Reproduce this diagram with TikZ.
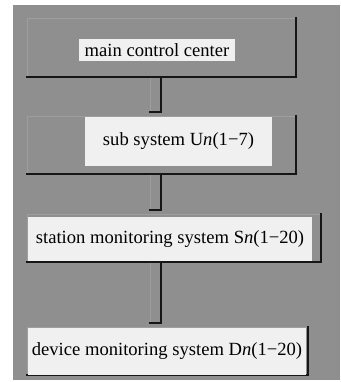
\documentclass[tikz,border=0pt]{standalone}
\usepackage{fontspec}
\setmainfont{Liberation Serif}
\definecolor{bggrey}{RGB}{143,143,143}
\definecolor{lite}{RGB}{158,158,158}
\definecolor{lbl}{RGB}{240,240,240}
\definecolor{dark}{RGB}{22,22,22}
\newcommand{\tdedges}[1]{%
  \draw[lite,line width=1.2pt] ([xshift=1.5pt,yshift=2pt]#1.south west) -- ([xshift=1.5pt,yshift=-1.5pt]#1.north west) -- ([xshift=-2pt,yshift=-1.5pt]#1.north east);
  \draw[dark,line width=2.2pt] ([xshift=-1.1pt]#1.north east) -- ([xshift=-1.1pt,yshift=1.1pt]#1.south east) -- ([yshift=1.1pt]#1.south west);
}
\begin{document}
\begin{tikzpicture}[x=1pt,y=-1pt,
  panel/.style={fill=bggrey,draw=none,inner sep=0pt,outer sep=0pt},
  lab/.style={fill=lbl,draw=none,inner sep=0pt,outer sep=0pt,font=\fontsize{18.6}{22}\selectfont,text=black},
]
\useasboundingbox (0,0) rectangle (340,382);
\fill[white] (0,0) rectangle (340,382);
\fill[bggrey] (13,5) rectangle (340,380);
% boxes
\node[panel,minimum width=271pt,minimum height=61pt] (b1) at (161.5,47.5) {};
\node[panel,minimum width=271pt,minimum height=60pt] (b2) at (161.5,145) {};
\node[panel,minimum width=296pt,minimum height=50pt] (b3) at (174,238) {};
\node[panel,minimum width=283pt,minimum height=50pt] (b4) at (167.5,351) {};
\tdedges{b1}\tdedges{b2}\tdedges{b3}\tdedges{b4}
% connectors
\foreach \a/\b/\n in {b1/b2/c1,b2/b3/c2,b3/b4/c3}{
  \coordinate (\n-tl) at (149,0 |- \a.south);
  \coordinate (\n-br) at ([yshift=2pt]162,0 |- \b.north);
  \fill[bggrey] (\n-tl) rectangle (\n-br);
  \draw[lite,line width=1.2pt] ([xshift=1.5pt,yshift=2pt]\n-tl |- \n-br) -- ([xshift=1.5pt]\n-tl);
  \draw[dark,line width=2.2pt] ([xshift=-1.1pt]\n-br |- \n-tl) -- ([xshift=-1.1pt,yshift=1.1pt]\n-br) -- ([yshift=1.1pt]\n-tl |- \n-br);
}
% labels
\node[lab,minimum width=156pt,minimum height=22pt] (l1) at (157,50) {main control center};
\node[lab,minimum width=187pt,minimum height=49pt] (l2) at (178.5,141.5) {sub system U\textit{n}(1−7)};
\node[lab,minimum width=284pt,minimum height=44pt] (l3) at (170,239) {station monitoring system S\textit{n}(1−20)};
\node[lab,minimum width=278pt,minimum height=47pt] (l4) at (167,351.5) {device monitoring system D\textit{n}(1−20)};
\end{tikzpicture}
\end{document}
